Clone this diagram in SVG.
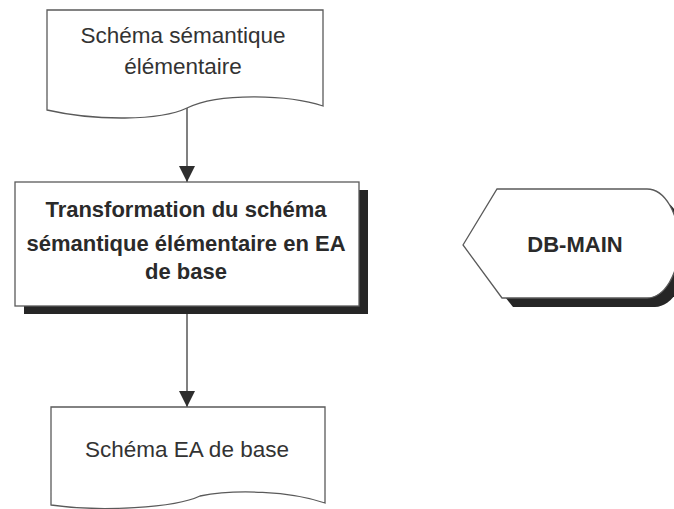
<svg xmlns="http://www.w3.org/2000/svg" width="674" height="509" viewBox="0 0 674 509">
  <style>
    .shape { fill: #ffffff; stroke: #5a5a5a; stroke-width: 1.3; }
    .shadow { fill: #262626; stroke: none; }
    .edge { stroke: #4a4a4a; stroke-width: 1.4; fill: none; }
    .lbl { font-family: "Liberation Sans", Arial, sans-serif; fill: #333333; text-anchor: middle; }
    .reg { font-size: 22.5px; }
    .bold { font-size: 22px; font-weight: bold; fill: #2a2a2a; }
  </style>
  <defs>
    <marker id="arrow" viewBox="0 0 16 18" refX="16" refY="9" markerWidth="16" markerHeight="18" markerUnits="userSpaceOnUse" orient="auto">
      <path d="M0,1 L16,9 L0,17 Z" fill="#2e2e2e"/>
    </marker>
  </defs>

  <rect width="674" height="509" fill="#ffffff"/>

  <g id="connectors">
    <line class="edge" x1="187" y1="108" x2="187" y2="182" marker-end="url(#arrow)"/>
    <line class="edge" x1="187" y1="306" x2="187" y2="407" marker-end="url(#arrow)"/>
  </g>

  <g id="schema-semantique">
    <path class="shape" d="M47,10 H323 V106 C290,95 220,92 187,108 C160,121 95,121 47,110 Z"/>
    <text class="lbl reg" x="183" y="43">Schéma sémantique</text>
    <text class="lbl reg" x="183" y="74">élémentaire</text>
  </g>

  <g id="transformation">
    <rect class="shadow" x="24" y="190" width="344" height="124"/>
    <rect class="shape" x="15" y="182" width="344" height="124"/>
    <text class="lbl bold" x="186" y="217">Transformation du schéma</text>
    <text class="lbl bold" x="186" y="251">sémantique élémentaire en EA</text>
    <text class="lbl bold" x="186" y="279">de base</text>
  </g>

  <g id="db-main">
    <path class="shadow" d="M471,254 L505,198 H655 A32,54.5 0 0 1 655,307 H513 Z"/>
    <path class="shape" d="M463,245 L497,189 H647 A32,54.5 0 0 1 647,298 H502 Z"/>
    <text class="lbl bold" x="575" y="252">DB-MAIN</text>
  </g>

  <g id="schema-ea">
    <path class="shape" d="M51,407 H325 V503 C290,491 235,489 200,496 C175,508 100,512 51,505 Z"/>
    <text class="lbl reg" x="187" y="457">Schéma EA de base</text>
  </g>
</svg>
